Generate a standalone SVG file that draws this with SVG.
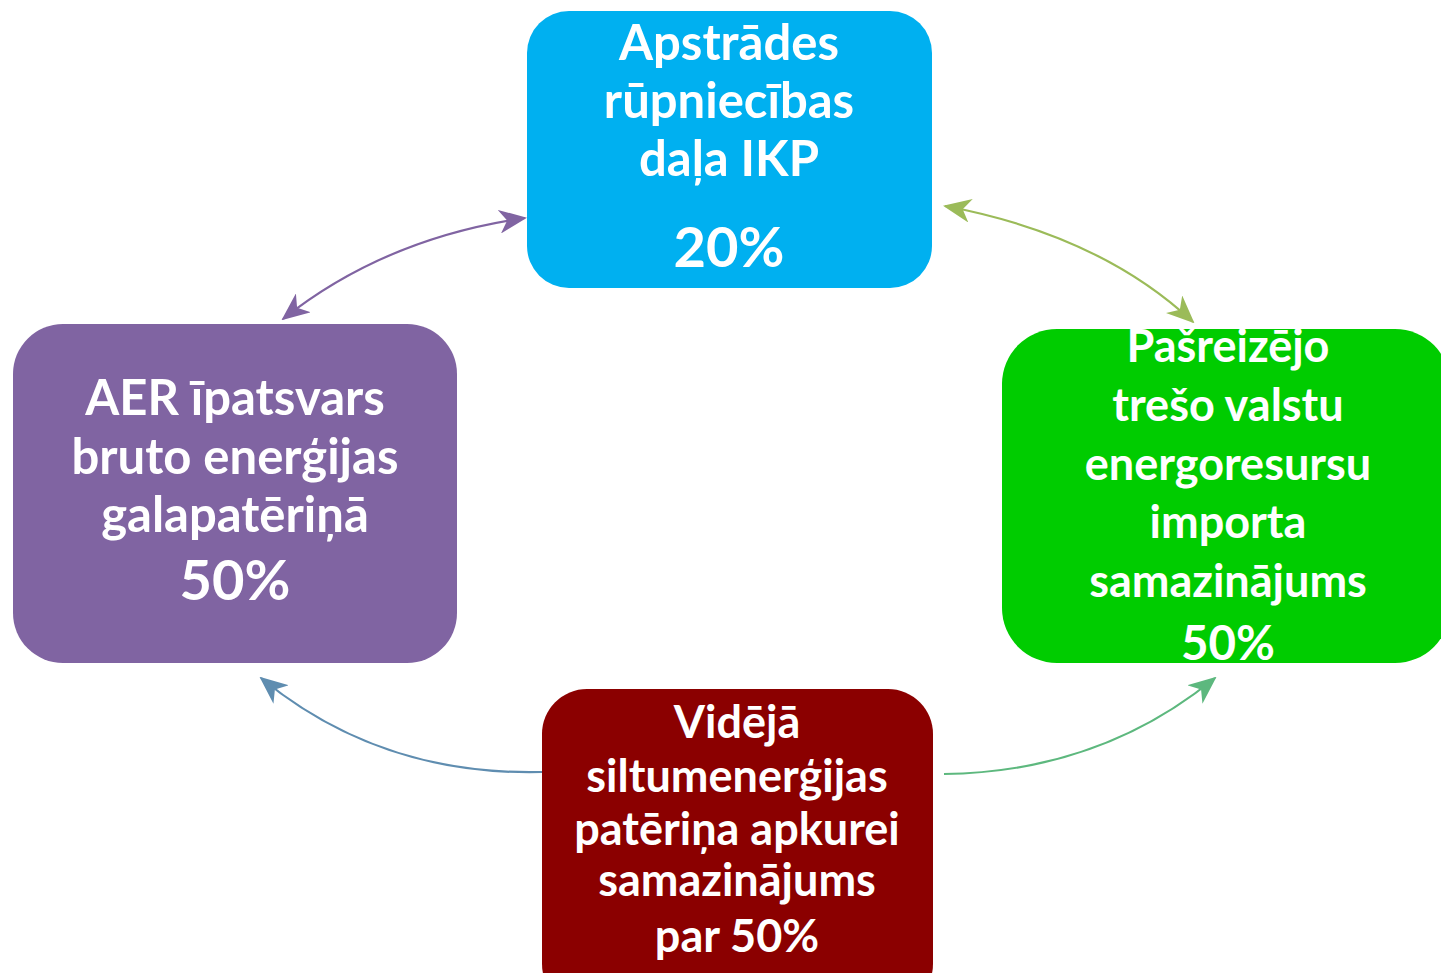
<svg xmlns="http://www.w3.org/2000/svg" width="1441" height="973" viewBox="0 0 1441 973">
<style>
.t{font-family:"Lato","Open Sans",sans-serif;font-weight:bold;fill:#fff;text-anchor:middle}
.c{fill:none;stroke-width:2.2}
</style>
<defs>
<marker id="mp" markerUnits="userSpaceOnUse" markerWidth="28" markerHeight="24" viewBox="0 0 28 24" refX="26" refY="12" orient="auto-start-reverse"><path d="M0,0 L28,12 L0,24 L8,12 z" fill="#8064A2"/></marker>
<marker id="mo" markerUnits="userSpaceOnUse" markerWidth="28" markerHeight="24" viewBox="0 0 28 24" refX="26" refY="12" orient="auto-start-reverse"><path d="M0,0 L28,12 L0,24 L8,12 z" fill="#9BBB59"/></marker>
<marker id="mb" markerUnits="userSpaceOnUse" markerWidth="28" markerHeight="24" viewBox="0 0 28 24" refX="26" refY="12" orient="auto"><path d="M0,0 L28,12 L0,24 L8,12 z" fill="#5F8DB0"/></marker>
<marker id="mg" markerUnits="userSpaceOnUse" markerWidth="28" markerHeight="24" viewBox="0 0 28 24" refX="26" refY="12" orient="auto"><path d="M0,0 L28,12 L0,24 L8,12 z" fill="#5DB87E"/></marker>
</defs>
<g id="connectors">
<path class="c" stroke="#8064A2" d="M283,319 Q385,238 525,218" marker-start="url(#mp)" marker-end="url(#mp)"/>
<path class="c" stroke="#9BBB59" d="M945,206 Q1100,235 1193,322" marker-start="url(#mo)" marker-end="url(#mo)"/>
<path class="c" stroke="#5F8DB0" d="M542,772 Q380,776 261,678" marker-end="url(#mb)"/>
<path class="c" stroke="#5DB87E" d="M944,774 Q1100,772 1215,678" marker-end="url(#mg)"/>
</g>
<g id="n1">
<rect x="527" y="11" width="405" height="277" rx="42" fill="#00B0F0"/>
<text class="t" x="729" y="60" font-size="49">Apstrādes</text>
<text class="t" x="729" y="118" font-size="49">rūpniecības</text>
<text class="t" x="729" y="176" font-size="49">daļa IKP</text>
<text class="t" x="729" y="267" font-size="56">20%</text>
</g>
<g id="n2">
<rect x="13" y="324" width="444" height="339" rx="50" fill="#8064A2"/>
<text class="t" x="235" y="415" font-size="49">AER īpatsvars</text>
<text class="t" x="235" y="474" font-size="49">bruto enerģijas</text>
<text class="t" x="235" y="532" font-size="49">galapatēriņā</text>
<text class="t" x="235" y="600" font-size="56">50%</text>
</g>
<g id="n3">
<rect x="1002" y="329" width="448" height="334" rx="55" fill="#00CC00"/>
<text class="t" x="1228" y="362" font-size="45">Pašreizējo</text>
<text class="t" x="1228" y="421" font-size="45">trešo valstu</text>
<text class="t" x="1228" y="480" font-size="45">energoresursu</text>
<text class="t" x="1228" y="538" font-size="45">importa</text>
<text class="t" x="1228" y="597" font-size="45">samazinājums</text>
<text class="t" x="1228" y="660" font-size="47.5">50%</text>
</g>
<g id="n4">
<rect x="542" y="689" width="391" height="320" rx="45" fill="#8B0000"/>
<text class="t" x="737" y="738" font-size="45">Vidējā</text>
<text class="t" x="737" y="792" font-size="45">siltumenerģijas</text>
<text class="t" x="737" y="845" font-size="45">patēriņa apkurei</text>
<text class="t" x="737" y="896" font-size="45">samazinājums</text>
<text class="t" x="737" y="952" font-size="45">par 50%</text>
</g>
</svg>
